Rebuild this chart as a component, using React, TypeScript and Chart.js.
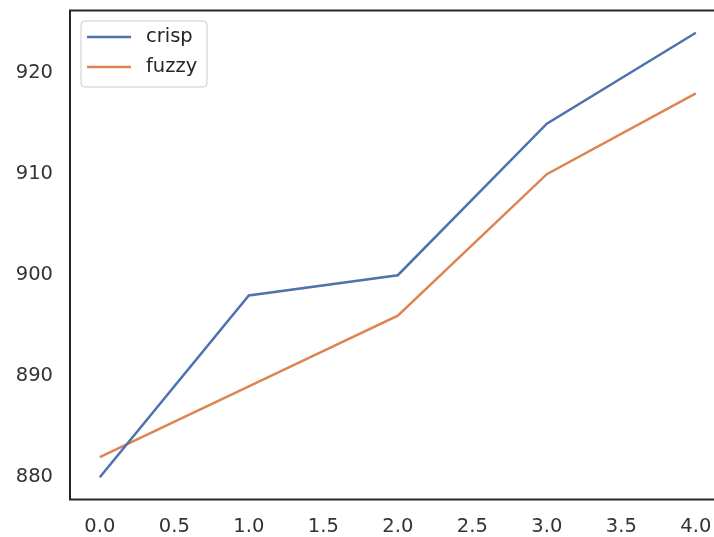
import React, { useEffect, useRef } from "react";
import { Chart, registerables } from "chart.js";

Chart.register(...registerables);

const xValues = [0, 1, 2, 3, 4];
const crisp = [880, 898, 900, 915, 924];
const fuzzy = [882, 889, 896, 910, 918];
const xTicks = [0, 0.5, 1, 1.5, 2, 2.5, 3, 3.5, 4];
const yTicks = [880, 890, 900, 910, 920];
const seriesLabels = ["crisp", "fuzzy"];
const seriesColors = ["#4c72b0", "#dd8452"];

const FONT = "'DejaVu Sans', sans-serif";

const framePlugin = {
  id: "frame",
  afterDraw(chart: any) {
    const { ctx, chartArea } = chart;
    ctx.save();
    ctx.strokeStyle = "#262626";
    ctx.lineWidth = 2;
    ctx.beginPath();
    ctx.moveTo(chart.width + 2, chartArea.top);
    ctx.lineTo(chartArea.left, chartArea.top);
    ctx.lineTo(chartArea.left, chartArea.bottom);
    ctx.lineTo(chart.width + 2, chartArea.bottom);
    ctx.stroke();

    // legend
    const x0 = chartArea.left + 11;
    const y0 = chartArea.top + 10.5;
    const w = 126;
    const h = 66;
    const r = 4;
    ctx.fillStyle = "rgba(255,255,255,0.8)";
    ctx.strokeStyle = "#cccccc";
    ctx.lineWidth = 1;
    ctx.beginPath();
    ctx.moveTo(x0 + r, y0);
    ctx.lineTo(x0 + w - r, y0);
    ctx.arcTo(x0 + w, y0, x0 + w, y0 + r, r);
    ctx.lineTo(x0 + w, y0 + h - r);
    ctx.arcTo(x0 + w, y0 + h, x0 + w - r, y0 + h, r);
    ctx.lineTo(x0 + r, y0 + h);
    ctx.arcTo(x0, y0 + h, x0, y0 + h - r, r);
    ctx.lineTo(x0, y0 + r);
    ctx.arcTo(x0, y0, x0 + r, y0, r);
    ctx.closePath();
    ctx.fill();
    ctx.stroke();

    chart.data.datasets.forEach((ds: any, i: number) => {
      const yy = y0 + 16 + i * 30;
      ctx.strokeStyle = ds.borderColor;
      ctx.lineWidth = 2.5;
      ctx.beginPath();
      ctx.moveTo(x0 + 6, yy);
      ctx.lineTo(x0 + 50, yy);
      ctx.stroke();
      ctx.fillStyle = "#262626";
      ctx.font = `19.5px ${FONT}`;
      ctx.textBaseline = "middle";
      ctx.textAlign = "left";
      ctx.fillText(ds.label, x0 + 65, yy);
    });
    ctx.restore();
  },
};

export default function App() {
  const ref = useRef<HTMLCanvasElement>(null);
  useEffect(() => {
    document.body.style.margin = "0";
    const chart = new Chart(ref.current!, {
      type: "line",
      data: {
        datasets: [crisp, fuzzy].map((s, i) => ({
          label: seriesLabels[i],
          data: xValues.map((x, j) => ({ x, y: s[j] })),
          borderColor: seriesColors[i],
          backgroundColor: seriesColors[i],
          borderWidth: 2.5,
          pointRadius: 0,
          tension: 0,
        })),
      },
      options: {
        animation: false,
        responsive: false,
        layout: { padding: { top: 10.5, left: 0, right: 0, bottom: 0 } },
        plugins: { legend: { display: false }, tooltip: { enabled: false } },
        scales: {
          x: {
            type: "linear",
            min: -0.2,
            max: 4.122,
            grid: { display: false, drawTicks: false },
            border: { display: false },
            afterBuildTicks: (s: any) => {
              s.ticks = xTicks.map((v) => ({ value: v }));
            },
            afterFit: (s: any) => {
              s.height = 37.5;
              s.paddingLeft = 0;
              s.paddingRight = 0;
            },
            ticks: {
              padding: 16,
              color: "#333333",
              font: { family: FONT, size: 19.5 },
              callback: (v: any) => Number(v).toFixed(1),
              maxRotation: 0,
              autoSkip: false,
            },
          },
          y: {
            type: "linear",
            min: 877.8,
            max: 926.2,
            grid: { display: false, drawTicks: false },
            border: { display: false },
            afterBuildTicks: (s: any) => {
              s.ticks = yTicks.map((v) => ({ value: v }));
            },
            afterFit: (s: any) => {
              s.width = 70;
              s.paddingTop = 0;
              s.paddingBottom = 0;
            },
            ticks: {
              padding: 17,
              color: "#333333",
              font: { family: FONT, size: 19.5 },
              callback: (v: any) => String(v),
            },
          },
        },
      },
      plugins: [framePlugin],
    });
    return () => chart.destroy();
  }, []);
  return (
    <div style={{ position: "absolute", left: 0, top: 0, width: 714, height: 537 }}>
      <canvas ref={ref} width={714} height={537} style={{ display: "block" }} />
    </div>
  );
}
